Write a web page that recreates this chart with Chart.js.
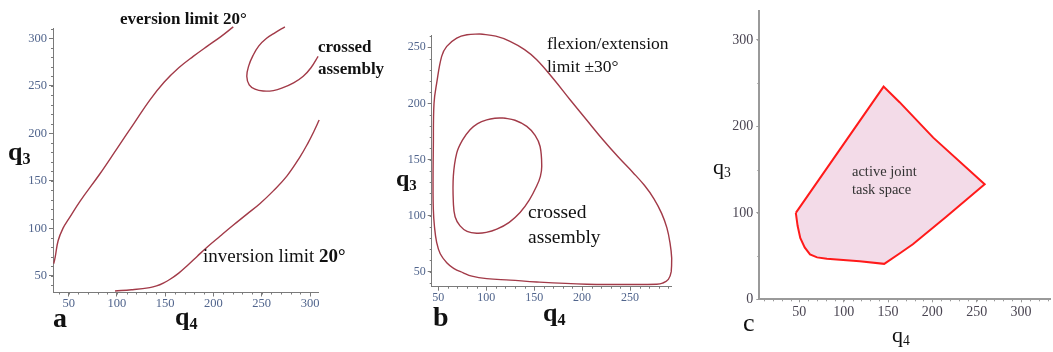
<!DOCTYPE html>
<html><head><meta charset="utf-8">
<script src="https://cdn.jsdelivr.net/npm/chart.js@4.4.0/dist/chart.umd.min.js"></script>
<style>
html,body{margin:0;padding:0;background:#fff;width:1053px;height:352px;overflow:hidden;}
canvas{position:absolute;left:0;top:0;}
.t{position:absolute;font-family:"Liberation Serif","Times New Roman",serif;color:#111;white-space:nowrap;line-height:1;}
.b{font-weight:bold;}
sub{font-size:62%;vertical-align:-0.25em;line-height:0;}
</style></head><body>
<canvas id="ca" width="1053" height="352"></canvas>
<canvas id="cb" width="1053" height="352"></canvas>
<canvas id="cc" width="1053" height="352"></canvas>

<!-- panel a text -->
<div class="t b" style="left:120px;top:10px;font-size:17px;">eversion limit 20°</div>
<div class="t b" style="left:318px;top:36px;font-size:17px;line-height:21.6px;">crossed<br>assembly</div>
<div class="t" style="left:203px;top:246px;font-size:19px;">inversion limit <b>20°</b></div>
<div class="t b" style="left:8px;top:139px;font-size:26px;">q<sub>3</sub></div>
<div class="t b" style="left:175px;top:304px;font-size:26px;">q<sub>4</sub></div>
<div class="t b" style="left:53px;top:304px;font-size:28px;">a</div>
<!-- panel b text -->
<div class="t" style="left:547px;top:32px;font-size:17.5px;line-height:23px;">flexion/extension<br>limit ±30°</div>
<div class="t" style="left:528px;top:199px;font-size:19.5px;line-height:25px;">crossed<br>assembly</div>
<div class="t b" style="left:396px;top:166px;font-size:24px;">q<sub>3</sub></div>
<div class="t b" style="left:543px;top:300px;font-size:26px;">q<sub>4</sub></div>
<div class="t b" style="left:433px;top:303px;font-size:28px;">b</div>
<!-- panel c text -->
<div class="t" style="left:713px;top:156px;font-size:22px;">q<sub>3</sub></div>
<div class="t" style="left:892px;top:324px;font-size:22px;">q<sub>4</sub></div>
<div class="t" style="left:743px;top:310px;font-size:26px;">c</div>
<div class="t" style="left:852px;top:163px;font-size:14.5px;line-height:17.6px;color:#333;">active joint<br>task space</div>

<script>
// ---------- data (q4 = x, q3 = y) ----------
// panel a
const aEversionQ4 = [34.5, 36, 39, 44, 50, 62, 82, 100, 118, 134, 149, 164, 179, 194, 208, 220.5];
const aEversionQ3 = [63, 70, 87, 100, 110, 129, 157, 184, 211, 235, 254, 269, 281, 292, 302, 312];
const aCrossedQ4 = [274, 264, 255, 247, 241, 236.5, 234.5, 237, 243, 251.5, 262, 272, 283, 293, 301, 308.4];
const aCrossedQ3 = [312, 306, 300, 292, 282, 271, 260, 251, 246.5, 244.5, 245, 248, 253, 260, 269, 281];
const aInversionQ4 = [98, 115, 134, 141, 148, 155, 164, 173, 183, 193, 207, 220, 234, 248, 262, 276, 289.5, 298, 304, 309.5];
const aInversionQ3 = [34.2, 35.5, 37.7, 39.5, 42.5, 46.5, 53, 61, 70.5, 80, 92, 103, 114.5, 126, 139.5, 155, 175, 190, 202, 214];
// panel b
const bOuterQ4 = [93.5, 110, 124.8, 140, 152.7, 170, 187.5, 205, 222, 238, 253, 265, 275, 283, 288.5, 291.7, 293.5, 293, 290, 284, 277.9, 240, 205, 152.7, 125, 100.5, 85, 76, 66, 58.8, 52, 48.3, 46, 44.8, 44.5, 44.8, 45.5, 48.3, 53.5, 58.8, 69.2, 80, 93.5];
const bOuterQ3 = [261.9, 260, 255.4, 248, 239, 222, 203.3, 185, 167.4, 152, 138.5, 127, 115, 102, 89, 75.8, 62, 50, 43.2, 39.8, 38.8, 38.6, 38.8, 40.8, 42.5, 43.8, 46, 49, 53, 58, 66, 75.9, 90, 105.7, 130, 160, 200, 218, 242, 250.9, 258.3, 261.2, 261.9];
const bInnerQ4 = [117.8, 130, 142.3, 151, 156.2, 157.9, 156.5, 152.7, 145, 135.3, 124, 111, 100, 90, 80, 72.7, 67.5, 65.7, 65.7, 69.2, 75, 83.1, 91, 100.5, 109, 117.8];
const bInnerQ3 = [187, 185, 179.5, 171.5, 161.6, 143.7, 135, 126.5, 114, 102.7, 94, 87.9, 85, 84.3, 86, 90.8, 99, 111.6, 135.4, 155.7, 167, 176.5, 182, 185.4, 186.8, 187];
// panel c
const cRegionQ4 = [46, 145, 163, 201, 259, 215, 178, 163, 145.7, 118, 81, 70, 62, 56, 51, 48, 46];
const cRegionQ3 = [100, 246, 228, 187, 133, 95, 63.6, 53, 41, 44, 47, 48.5, 52, 60, 71, 85, 100];
// tick labels
const aTicksQ4 = [50, 100, 150, 200, 250, 300];
const aTicksQ3 = [50, 100, 150, 200, 250, 300];
const bTicksQ4 = [50, 100, 150, 200, 250];
const bTicksQ3 = [50, 100, 150, 200, 250];
const cTicksQ4 = [50, 100, 150, 200, 250, 300];
const cTicksQ3 = [0, 100, 200, 300];

// ---------- helpers ----------
const W = 1053, H = 352, YW = 40, XH = 30;
const pts = (xs, ys) => xs.map((x, i) => ({x, y: ys[i]}));
const curve = (xs, ys, extra) => Object.assign({
  data: pts(xs, ys), showLine: true, borderColor: '#a23a48', borderWidth: 1.4,
  pointRadius: 0, tension: 0.4, clip: false, fill: false
}, extra || {});

function minorPlugin(sx, sy, color, len) {
  return {id: 'minorTicks', afterDraw(chart) {
    const ctx = chart.ctx, xs = chart.scales.x, ys = chart.scales.y, a = chart.chartArea;
    ctx.save(); ctx.strokeStyle = color; ctx.lineWidth = 1; ctx.beginPath();
    for (let v = Math.ceil(xs.min / sx) * sx; v <= xs.max; v += sx) {
      const p = Math.round(xs.getPixelForValue(v)) + 0.5;
      ctx.moveTo(p, a.bottom); ctx.lineTo(p, a.bottom + len);
    }
    for (let v = Math.ceil(ys.min / sy) * sy; v <= ys.max; v += sy) {
      const p = Math.round(ys.getPixelForValue(v)) + 0.5;
      ctx.moveTo(a.left, p); ctx.lineTo(a.left - len, p);
    }
    ctx.stroke(); ctx.restore();
  }};
}

function panel(id, o) {
  const pad = {left: o.area.l - YW, top: o.area.t, right: W - o.area.r, bottom: H - o.area.b - XH};
  const axis = (ticks, min, max, pos, tpad) => ({
    type: 'linear', position: pos, min, max,
    afterBuildTicks: s => { s.ticks = ticks.map(v => ({value: v})); },
    afterFit: s => { if (pos === 'left') s.width = YW; else s.height = XH; },
    grid: {display: true, drawOnChartArea: false, drawTicks: true, tickLength: o.tickLen,
           tickColor: o.axisColor, tickWidth: 1},
    border: {display: true, color: o.axisColor, width: o.axisWidth},
    ticks: {autoSkip: false, maxRotation: 0, padding: tpad, color: o.tickColor,
            font: {family: 'Liberation Serif', size: o.tickSize}, callback: v => String(v)}
  });
  return new Chart(document.getElementById(id), {
    type: 'scatter',
    data: {datasets: o.datasets},
    options: {
      responsive: false, animation: false, devicePixelRatio: 1,
      layout: {padding: pad},
      plugins: {legend: {display: false}, tooltip: {enabled: false}},
      scales: {
        x: axis(o.xTicks, o.xMin, o.xMax, 'bottom', o.xPad),
        y: axis(o.yTicks, o.yMin, o.yMax, 'left', o.yPad)
      }
    },
    plugins: [minorPlugin(o.minorX, o.minorY, o.axisColor, o.minorLen)]
  });
}

panel('ca', {
  area: {l: 53, r: 318.3, t: 28.3, b: 292.5},
  xMin: 33.7, xMax: 308.6, yMin: 32.6, yMax: 310.5,
  xTicks: aTicksQ4, yTicks: aTicksQ3,
  tickLen: 4, tickSize: 12.5, tickColor: '#50648c', axisColor: '#7a7a7a', axisWidth: 1,
  xPad: 0, yPad: 2, minorX: 10, minorY: 10, minorLen: 2,
  datasets: [curve(aEversionQ4, aEversionQ3), curve(aCrossedQ4, aCrossedQ3), curve(aInversionQ4, aInversionQ3)]
});

panel('cb', {
  area: {l: 431.7, r: 671.7, t: 35, b: 286.7},
  xMin: 43.1, xMax: 293.5, yMin: 36.6, yMax: 261,
  xTicks: bTicksQ4, yTicks: bTicksQ3,
  tickLen: 4, tickSize: 12, tickColor: '#50648c', axisColor: '#7a7a7a', axisWidth: 1,
  xPad: 0, yPad: 2, minorX: 10, minorY: 10, minorLen: 2,
  datasets: [curve(bOuterQ4, bOuterQ3), curve(bInnerQ4, bInnerQ3)]
});

panel('cc', {
  area: {l: 759.3, r: 1050, t: 4, b: 299.3},
  xMin: 4.8, xMax: 332.7, yMin: 0, yMax: 333,
  xTicks: cTicksQ4, yTicks: cTicksQ3,
  tickLen: 3, tickSize: 14, tickColor: '#4a4552', axisColor: '#9a9a9a', axisWidth: 2,
  xPad: 2, yPad: 3, minorX: 10, minorY: 50, minorLen: 2,
  datasets: [curve(cRegionQ4, cRegionQ3, {tension: 0, borderColor: '#ff1a1a', borderWidth: 2,
    fill: 'shape', backgroundColor: '#f3dbe8'})]
});
</script>
</body></html>
